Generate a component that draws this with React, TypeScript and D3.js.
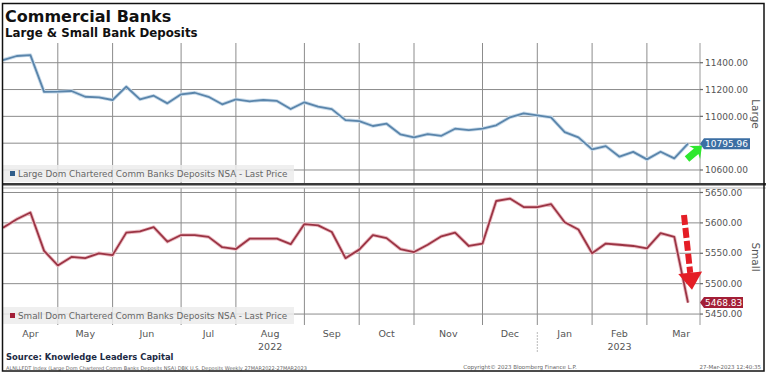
import React from "react";
import * as d3 from "d3";

const W = 768;
const H = 378;

// Weekly values, Apr 2022 – Mar 2023 (51 weeks)
const largeDeposits = [11420, 11450, 11457, 11183, 11184, 11189, 11146, 11142, 11122, 11221, 11127, 11154, 11097, 11164, 11176, 11146, 11090, 11127, 11112, 11122, 11115, 11055, 11105, 11072, 11054, 10972, 10965, 10928, 10945, 10866, 10843, 10868, 10855, 10908, 10898, 10908, 10933, 10993, 11022, 11007, 10993, 10883, 10843, 10754, 10778, 10699, 10735, 10679, 10736, 10687, 10795.96];
const smallDeposits = [5592, 5606, 5617, 5554, 5530, 5544, 5542, 5550, 5547, 5584, 5586, 5593, 5569, 5580, 5580, 5577, 5560, 5557, 5574, 5574, 5574, 5565, 5598, 5596, 5585, 5542, 5556, 5580, 5575, 5557, 5552, 5564, 5578, 5584, 5562, 5566, 5636, 5640, 5626, 5626, 5631, 5601, 5589, 5550, 5566, 5564, 5562, 5558, 5583, 5577, 5468.83];

const monthLabels = ["Apr", "May", "Jun", "Jul", "Aug", "Sep", "Oct", "Nov", "Dec", "Jan", "Feb", "Mar"];
const monthStartIdx = [0, 4, 8, 13, 17, 22, 26, 30, 35, 39, 43, 47];
const monthEndAfterLast = 52;
const yearLabels = ["2022", "2023"];
const yearMonth = ["Aug", "Feb"];
const yearBreakIdx = 39;

const largeTicks = [11400, 11200, 11000, 10800, 10600];
const largeTickShown = [true, true, true, false, true];
const smallTicks = [5650, 5600, 5550, 5500, 5450];

const largeLegend = "Large Dom Chartered Comm Banks Deposits NSA - Last Price";
const smallLegend = "Small Dom Chartered Comm Banks Deposits NSA - Last Price";

const FONT = "'DejaVu Sans', Verdana, sans-serif";

export default function App() {
  const plotL = 2;
  const plotR = 700;
  const topT = 43;
  const topB = 183;
  const botT = 188;
  const botB = 325;

  const x = d3.scaleLinear().domain([0, 50]).range([3, 688]);
  const yTop = d3.scaleLinear().domain([10503, 11547]).range([topB, topT]);
  const yBot = d3.scaleLinear().domain([5432, 5657.4]).range([botB, botT]);

  const lineTop = d3.line<number>().x((_, i) => x(i)).y((d) => yTop(d));
  const lineBot = d3.line<number>().x((_, i) => x(i)).y((d) => yBot(d));

  const gridV = monthStartIdx.slice(1);
  const gridColor = "#8c8c8c";

  const lastL = largeDeposits[largeDeposits.length - 1];
  const lastS = smallDeposits[smallDeposits.length - 1];
  const lyL = yTop(lastL);
  const lyS = yBot(lastS);

  // green arrow (annotation) pointing up-right near last large value
  const gTip = [x(50) + 14, lyL + 2];
  const gAng = (-40 * Math.PI) / 180;
  const gPts = [
    [0, 0], [-10, -8], [-8, -3], [-20, -3], [-20, 4], [-8, 4], [-10, 9],
  ].map(([px, py]) => [
    gTip[0] + px * Math.cos(gAng) - py * Math.sin(gAng),
    gTip[1] + px * Math.sin(gAng) + py * Math.cos(gAng),
  ]);

  // red dashed arrow pointing down
  const rStart = [x(50) - 4, yBot(5613)];
  const rTip = [x(50) + 4, yBot(5490)];
  const rdx = rTip[0] - rStart[0];
  const rdy = rTip[1] - rStart[1];
  const rLen = Math.sqrt(rdx * rdx + rdy * rdy);
  const ux = rdx / rLen, uy = rdy / rLen;
  const headLen = 17, headHalf = 12;
  const hb = [rTip[0] - ux * headLen, rTip[1] - uy * headLen];
  const rHead = [
    [rTip[0], rTip[1]],
    [hb[0] - uy * headHalf, hb[1] + ux * headHalf],
    [hb[0] + uy * headHalf, hb[1] - ux * headHalf],
  ];

  const labelL = 704;

  return (
    <div style={{ position: "absolute", left: 0, top: 0, width: W, height: H, background: "#fff" }}>
      <svg width={W} height={H} style={{ display: "block" }} fontFamily={FONT}>
        <rect x={0} y={0} width={W} height={H} fill="#fff" />

        {/* Titles */}
        <text x={5} y={22} fontSize={16} fontWeight="bold" fill="#111">Commercial Banks</text>
        <text x={5} y={37} fontSize={11.8} fontWeight="bold" fill="#111">Large &amp; Small Bank Deposits</text>

        {/* Horizontal gridlines */}
        {largeTicks.map((t) => (
          <line key={"hl" + t} x1={plotL} x2={plotR} y1={yTop(t)} y2={yTop(t)} stroke={gridColor} strokeWidth={1} />
        ))}
        {smallTicks.map((t) => (
          <line key={"hs" + t} x1={plotL} x2={plotR} y1={yBot(t)} y2={yBot(t)} stroke={gridColor} strokeWidth={1} />
        ))}

        {/* Vertical gridlines */}
        {gridV.map((i) => (
          <g key={"v" + i}>
            <line x1={x(i)} x2={x(i)} y1={topT} y2={topB} stroke={gridColor} strokeWidth={1} />
            <line x1={x(i)} x2={x(i)} y1={botT} y2={botB} stroke={gridColor} strokeWidth={1} />
          </g>
        ))}

        {/* Legends */}
        <rect x={2} y={165} width={292} height={17} fill="#ececec" opacity={0.85} />
        <rect x={10} y={171} width={5} height={5} fill="#2f5d8a" />
        <text x={18} y={176.8} fontSize={8.8} fill="#666">{largeLegend}</text>
        <rect x={2} y={307} width={292} height={17} fill="#ececec" opacity={0.85} />
        <rect x={10} y={313} width={5} height={5} fill="#a31f37" />
        <text x={18} y={318.8} fontSize={8.8} fill="#666">{smallLegend}</text>

        {/* Lines */}
        <path d={lineTop(largeDeposits) || ""} fill="none" stroke="#c9dbea" strokeWidth={3.6} strokeLinejoin="round" />
        <path d={lineTop(largeDeposits) || ""} fill="none" stroke="#5a85ab" strokeWidth={1.8} strokeLinejoin="round" />
        <path d={lineBot(smallDeposits) || ""} fill="none" stroke="#ebbcc3" strokeWidth={3.6} strokeLinejoin="round" />
        <path d={lineBot(smallDeposits) || ""} fill="none" stroke="#9b3444" strokeWidth={1.8} strokeLinejoin="round" />

        {/* Panel separator */}
        <line x1={2} x2={766} y1={184.3} y2={184.3} stroke="#3a3a3a" strokeWidth={2.6} />
        <line x1={2} x2={766} y1={188} y2={188} stroke="#b5b5b5" strokeWidth={1} />

        {/* Right axis lines */}
        <line x1={plotR} x2={plotR} y1={topT} y2={topB} stroke="#999" strokeWidth={1} />
        <line x1={plotR} x2={plotR} y1={botT} y2={botB} stroke="#999" strokeWidth={1} />

        {/* Y tick labels */}
        {largeTicks.map((t, k) =>
          largeTickShown[k] ? (
            <g key={"tl" + t}>
              <line x1={plotR} x2={plotR + 3} y1={yTop(t)} y2={yTop(t)} stroke="#666" strokeWidth={1.2} />
              <text x={705} y={yTop(t)} dy="0.35em" fontSize={9} fill="#555">{t.toFixed(2)}</text>
            </g>
          ) : null
        )}
        {smallTicks.map((t) => (
          <g key={"ts" + t}>
            <line x1={plotR} x2={plotR + 3} y1={yBot(t)} y2={yBot(t)} stroke="#666" strokeWidth={1.2} />
            <text x={705} y={yBot(t)} dy="0.35em" fontSize={9} fill="#555">{t.toFixed(2)}</text>
          </g>
        ))}

        {/* Axis titles */}
        <text transform={`translate(752, 114) rotate(90)`} textAnchor="middle" fontSize={10.5} fill="#555">Large</text>
        <text transform={`translate(752, 257) rotate(90)`} textAnchor="middle" fontSize={10.5} fill="#555">Small</text>

        {/* Last price labels */}
        <path d={`M${plotR},${lyL} L${labelL},${lyL - 5.5} H750 V${lyL + 5.5} H${labelL} Z`} fill="#3b6ea3" />
        <text x={labelL + 1} y={lyL} dy="0.35em" fontSize={9} fill="#fff">{lastL.toFixed(2)}</text>
        <path d={`M${plotR},${lyS} L${labelL},${lyS - 5.5} H743 V${lyS + 5.5} H${labelL} Z`} fill="#a31f37" />
        <text x={labelL + 1} y={lyS} dy="0.35em" fontSize={9} fill="#fff">{lastS.toFixed(2)}</text>

        {/* Annotation arrows */}
        <polygon points={gPts.map((p) => p.join(",")).join(" ")} fill="#2ee82e" />
        <line x1={rStart[0]} y1={rStart[1]} x2={hb[0]} y2={hb[1]} stroke="#e41e26" strokeWidth={6} strokeDasharray="10 3" />
        <polygon points={rHead.map((p) => p.join(",")).join(" ")} fill="#e41e26" />

        {/* Month labels */}
        {monthLabels.map((m, k) => {
          const s = monthStartIdx[k];
          const e = k + 1 < monthStartIdx.length ? monthStartIdx[k + 1] : monthEndAfterLast;
          const cx = (x(s) + x(e)) / 2;
          return (
            <text key={m} x={cx} y={337} textAnchor="middle" fontSize={9.5} fill="#555">{m}</text>
          );
        })}
        {yearLabels.map((yl, k) => {
          const mi = monthLabels.indexOf(yearMonth[k]);
          const s = monthStartIdx[mi];
          const e = mi + 1 < monthStartIdx.length ? monthStartIdx[mi + 1] : monthEndAfterLast;
          return (
            <text key={yl} x={(x(s) + x(e)) / 2} y={350} textAnchor="middle" fontSize={9.5} fill="#555">{yl}</text>
          );
        })}
        <line x1={x(yearBreakIdx)} x2={x(yearBreakIdx)} y1={332} y2={352} stroke="#bbb" strokeWidth={1} strokeDasharray="2 1" />

        {/* Footer */}
        <text x={6} y={360} fontSize={8.4} fontWeight="bold" fill="#1c2a44">Source: Knowledge Leaders Capital</text>
        <text x={6} y={370} fontSize={5} fill="#666">ALNLLFDT Index (Large Dom Chartered Comm Banks Deposits NSA) DBK U.S. Deposits  Weekly 27MAR2022-27MAR2023</text>
        <text x={520} y={369} textAnchor="middle" fontSize={5.5} fill="#666">Copyright© 2023 Bloomberg Finance L.P.</text>
        <text x={761} y={369} textAnchor="end" fontSize={5.5} fill="#666">27-Mar-2023 12:40:35</text>

        {/* Outer border */}
        <rect x={2.5} y={3.5} width={761.5} height={367.5} fill="none" stroke="#111" strokeWidth={1.5} />
      </svg>
    </div>
  );
}
